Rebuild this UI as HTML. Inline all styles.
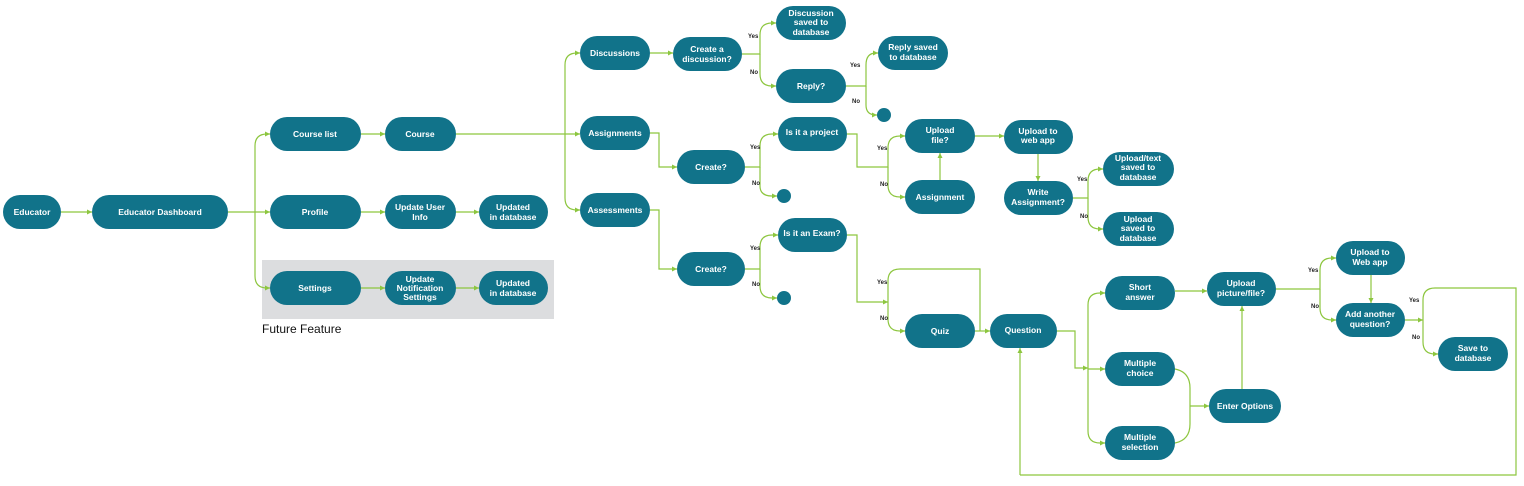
<!DOCTYPE html>
<html><head><meta charset="utf-8"><style>
html,body{margin:0;padding:0;background:#fff;width:1524px;height:486px;overflow:hidden}
svg{display:block}
.n{fill:#11738a}
.t{font-family:"Liberation Sans",Arial,sans-serif;font-weight:bold;font-size:8.5px;fill:#fff;text-anchor:middle}
.l{font-family:"Liberation Sans",Arial,sans-serif;font-weight:bold;font-size:6px;fill:#222}
.c{fill:none;stroke:#8dc63f;stroke-width:1.2}
</style></head><body>
<svg width="1524" height="486" viewBox="0 0 1524 486" xmlns="http://www.w3.org/2000/svg">
<defs><marker id="a" markerWidth="6" markerHeight="6" refX="5" refY="3" orient="auto" markerUnits="userSpaceOnUse"><path d="M0,0.5 L5,3 L0,5.5z" fill="#8dc63f"/></marker></defs>
<rect x="262" y="260" width="292" height="59" fill="#dcdddf"/>
<text x="262" y="333" font-family="Liberation Sans,sans-serif" font-size="12" fill="#111">Future Feature</text>
<g class="c" marker-end="url(#a)">
<path d="M61,212 H92"/>
<path d="M228,212 H270"/>
<path d="M255,212 V146 Q255,134 267,134 H270"/>
<path d="M255,212 V276 Q255,288 267,288 H270"/>
<path d="M361,134 H385"/><path d="M361,212 H385"/><path d="M361,288 H385"/>
<path d="M456,212 H479"/><path d="M456,288 H479"/>
<path d="M456,134 H580"/>
<path d="M565,134 V65 Q565,53 577,53 H580"/>
<path d="M565,134 V198 Q565,210 577,210 H580"/>
<path d="M650,53 H673"/>
<path d="M742,54 H760 V35 Q760,23 772,23 H776"/>
<path d="M760,54 V74 Q760,86 772,86 H776"/>
<path d="M846,86 H866 V65 Q866,53 876,53 H878"/>
<path d="M866,86 V105 Q866,115 876,115 H877"/>
<path d="M650,133 H659 V167 H677"/>
<path d="M745,167 H760 V146 Q760,134 772,134 H778"/>
<path d="M760,167 V186 Q760,196 772,196 H777"/>
<path d="M847,134 H857 V167 H888 V148 Q888,136 900,136 H905"/>
<path d="M888,167 V185 Q888,197 900,197 H905"/>
<path d="M940,180 V153"/>
<path d="M975,136 H1004"/>
<path d="M1038,154 V181"/>
<path d="M1073,198 H1088 V181 Q1088,169 1100,169 H1103"/>
<path d="M1088,198 V217 Q1088,229 1100,229 H1103"/>
<path d="M650,210 H659 V269 H677"/>
<path d="M745,269 H760 V247 Q760,235 772,235 H778"/>
<path d="M760,269 V286 Q760,298 772,298 H777"/>
<path d="M847,235 H857 V302 H888"/>
<path d="M888,302 V319 Q888,331 900,331 H905"/>
<path d="M975,331 H990"/>
<path d="M1057,331 H1075 V368 H1088"/>
<path d="M1088,368 V305 Q1088,293 1100,293 H1105"/>
<path d="M1088,368 V431 Q1088,443 1100,443 H1105"/>
<path d="M1088,369 H1105"/>
<path d="M1175,291 H1207"/>
<path d="M1190,406 H1209"/>
<path d="M1242,389 V306"/>
<path d="M1276,289 H1320 V270 Q1320,258 1332,258 H1336"/>
<path d="M1320,289 V308 Q1320,320 1332,320 H1336"/>
<path d="M1371,275 V303"/>
<path d="M1405,320 H1423"/>
<path d="M1423,320 V342 Q1423,354 1435,354 H1438"/>
<path d="M1020,475 V348"/>
</g>
<g class="c">
<path d="M888,302 V281 Q888,269 900,269 H980 V331"/>
<path d="M1175,369 Q1190,372 1190,388 V406"/>
<path d="M1175,443 Q1190,440 1190,424 V406"/>
<path d="M1423,320 V300 Q1423,288 1435,288 H1516 V475 H1020"/>
</g>
<g>
<rect class="n" x="3" y="195" width="58" height="34" rx="17"/>
<rect class="n" x="92" y="195" width="136" height="34" rx="17"/>
<rect class="n" x="270" y="117" width="91" height="34" rx="17"/>
<rect class="n" x="385" y="117" width="71" height="34" rx="17"/>
<rect class="n" x="270" y="195" width="91" height="34" rx="17"/>
<rect class="n" x="385" y="195" width="71" height="34" rx="17"/>
<rect class="n" x="479" y="195" width="69" height="34" rx="17"/>
<rect class="n" x="270" y="271" width="91" height="34" rx="17"/>
<rect class="n" x="385" y="271" width="71" height="34" rx="17"/>
<rect class="n" x="479" y="271" width="69" height="34" rx="17"/>
<rect class="n" x="580" y="36" width="70" height="34" rx="17"/>
<rect class="n" x="580" y="116" width="70" height="34" rx="17"/>
<rect class="n" x="580" y="193" width="70" height="34" rx="17"/>
<rect class="n" x="673" y="37" width="69" height="34" rx="17"/>
<rect class="n" x="776" y="6" width="70" height="34" rx="17"/>
<rect class="n" x="776" y="69" width="70" height="34" rx="17"/>
<rect class="n" x="878" y="36" width="70" height="34" rx="17"/>
<circle class="n" cx="884" cy="115" r="7"/>
<rect class="n" x="677" y="150" width="68" height="34" rx="17"/>
<rect class="n" x="778" y="117" width="69" height="34" rx="17"/>
<circle class="n" cx="784" cy="196" r="7"/>
<rect class="n" x="905" y="119" width="70" height="34" rx="17"/>
<rect class="n" x="905" y="180" width="70" height="34" rx="17"/>
<rect class="n" x="1004" y="120" width="69" height="34" rx="17"/>
<rect class="n" x="1004" y="181" width="69" height="34" rx="17"/>
<rect class="n" x="1103" y="152" width="71" height="34" rx="17"/>
<rect class="n" x="1103" y="212" width="71" height="34" rx="17"/>
<rect class="n" x="677" y="252" width="68" height="34" rx="17"/>
<rect class="n" x="778" y="218" width="69" height="34" rx="17"/>
<circle class="n" cx="784" cy="298" r="7"/>
<rect class="n" x="905" y="314" width="70" height="34" rx="17"/>
<rect class="n" x="990" y="314" width="67" height="34" rx="17"/>
<rect class="n" x="1105" y="276" width="70" height="34" rx="17"/>
<rect class="n" x="1105" y="352" width="70" height="34" rx="17"/>
<rect class="n" x="1105" y="426" width="70" height="34" rx="17"/>
<rect class="n" x="1207" y="272" width="69" height="34" rx="17"/>
<rect class="n" x="1209" y="389" width="72" height="34" rx="17"/>
<rect class="n" x="1336" y="241" width="69" height="34" rx="17"/>
<rect class="n" x="1336" y="303" width="69" height="34" rx="17"/>
<rect class="n" x="1438" y="337" width="70" height="34" rx="17"/>
</g>
<g class="t">
<text x="32" y="215">Educator</text>
<text x="160" y="215">Educator Dashboard</text>
<text x="315" y="137">Course list</text>
<text x="420" y="137">Course</text>
<text x="315" y="215">Profile</text>
<text x="420" y="210">Update User</text><text x="420" y="220">Info</text>
<text x="513" y="210">Updated</text><text x="513" y="220">in database</text>
<text x="315" y="291">Settings</text>
<text x="420" y="282">Update</text><text x="420" y="291">Notification</text><text x="420" y="300">Settings</text>
<text x="513" y="286">Updated</text><text x="513" y="296">in database</text>
<text x="615" y="56">Discussions</text>
<text x="615" y="136">Assignments</text>
<text x="615" y="213">Assessments</text>
<text x="707" y="52">Create a</text><text x="707" y="62">discussion?</text>
<text x="811" y="16">Discussion</text><text x="811" y="25">saved to</text><text x="811" y="35">database</text>
<text x="811" y="89">Reply?</text>
<text x="913" y="50">Reply saved</text><text x="913" y="60">to database</text>
<text x="711" y="170">Create?</text>
<text x="812" y="135">Is it a project</text>
<text x="940" y="133">Upload</text><text x="940" y="143">file?</text>
<text x="940" y="200">Assignment</text>
<text x="1038" y="134">Upload to</text><text x="1038" y="143">web app</text>
<text x="1038" y="195">Write</text><text x="1038" y="205">Assignment?</text>
<text x="1138" y="161">Upload/text</text><text x="1138" y="170">saved to</text><text x="1138" y="180">database</text>
<text x="1138" y="222">Upload</text><text x="1138" y="231">saved to</text><text x="1138" y="241">database</text>
<text x="711" y="272">Create?</text>
<text x="812" y="236">Is it an Exam?</text>
<text x="940" y="334">Quiz</text>
<text x="1023" y="333">Question</text>
<text x="1140" y="290">Short</text><text x="1140" y="300">answer</text>
<text x="1140" y="366">Multiple</text><text x="1140" y="376">choice</text>
<text x="1140" y="440">Multiple</text><text x="1140" y="450">selection</text>
<text x="1241" y="286">Upload</text><text x="1241" y="296">picture/file?</text>
<text x="1245" y="409">Enter Options</text>
<text x="1370" y="255">Upload to</text><text x="1370" y="265">Web app</text>
<text x="1370" y="317">Add another</text><text x="1370" y="327">question?</text>
<text x="1473" y="351">Save to</text><text x="1473" y="361">database</text>
</g>
<g class="l">
<text x="748" y="38">Yes</text><text x="750" y="74">No</text>
<text x="850" y="67">Yes</text><text x="852" y="103">No</text>
<text x="750" y="149">Yes</text><text x="752" y="185">No</text>
<text x="877" y="150">Yes</text><text x="880" y="186">No</text>
<text x="1077" y="181">Yes</text><text x="1080" y="218">No</text>
<text x="750" y="250">Yes</text><text x="752" y="286">No</text>
<text x="877" y="284">Yes</text><text x="880" y="320">No</text>
<text x="1308" y="272">Yes</text><text x="1311" y="308">No</text>
<text x="1409" y="302">Yes</text><text x="1412" y="339">No</text>
</g>
</svg>
</body></html>
